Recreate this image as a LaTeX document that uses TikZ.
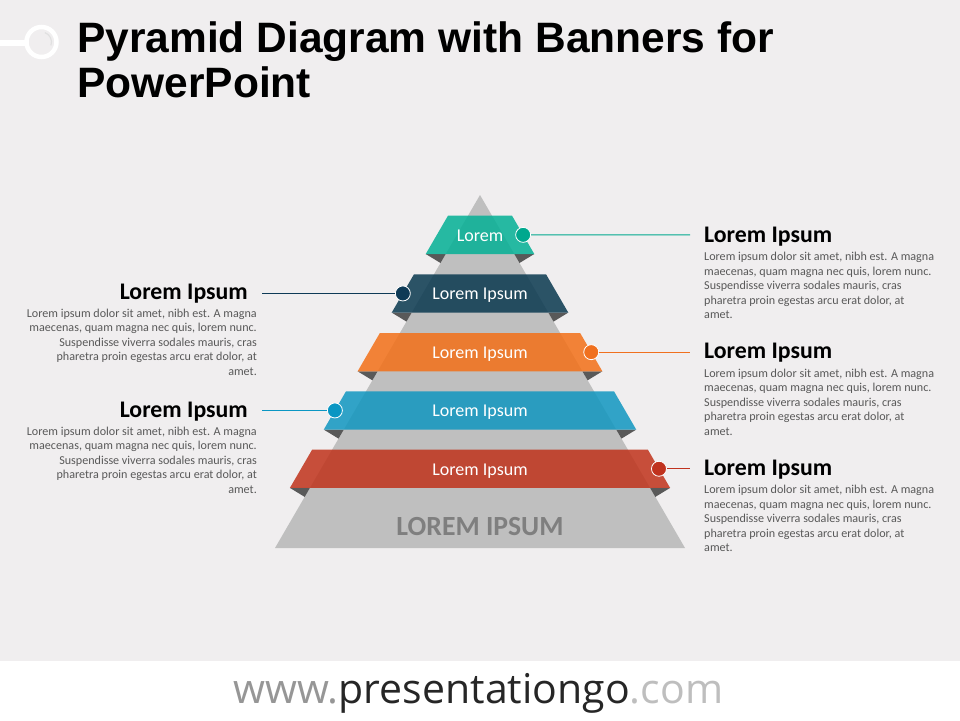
\documentclass[tikz,border=0pt]{standalone}
\usepackage{fontspec}
\setmainfont{Carlito}
\newfontfamily\titlefont{Liberation Sans}
\newfontfamily\footfont{Open Sans}
\definecolor{bg}{RGB}{240,238,239}
\definecolor{pyr}{RGB}{191,191,191}
\definecolor{flapgray}{RGB}{89,89,89}
\definecolor{txtgray}{RGB}{89,89,89}
\definecolor{bigtxt}{RGB}{127,127,127}
\definecolor{tealB}{RGB}{3,176,149}
\definecolor{navyB}{RGB}{9,56,79}
\definecolor{orangeB}{RGB}{243,112,23}
\definecolor{blueB}{RGB}{16,151,192}
\definecolor{redB}{RGB}{192,51,27}
\definecolor{tealD}{RGB}{0,168,142}
\definecolor{navyD}{RGB}{14,58,86}
\definecolor{orangeD}{RGB}{240,112,30}
\definecolor{blueD}{RGB}{10,150,195}
\definecolor{redD}{RGB}{192,50,30}
\definecolor{wgray}{RGB}{150,150,150}
\definecolor{pgray}{RGB}{38,38,38}
\definecolor{cgray}{RGB}{190,190,190}
\newcommand\pyrbanner[4]{%
  \pgfmathsetmacro\yb{#2+38.3}%
  \pgfmathsetmacro\ym{#2+19.15}%
  \pgfmathsetmacro\yt{#2+25.6}%
  \pgfmathsetmacro\hT{(#2-195)*0.5807+20}%
  \pgfmathsetmacro\hB{(\yb-195)*0.5807+20}%
  \pgfmathsetmacro\hP{\hB-20}%
  \pgfmathsetmacro\hQ{\hP+9*0.5807}%
  \pgfmathsetmacro\hM{(\hT+\hB)/2}%
  \pgfmathsetmacro\yc{\yb+9}%
  \fill[flapgray] (480-\hB,\yb) -- (480-\hP,\yb) -- (480-\hQ,\yc) -- cycle;
  \fill[flapgray] (480+\hB,\yb) -- (480+\hP,\yb) -- (480+\hQ,\yc) -- cycle;
  \fill[#3, fill opacity=0.85] (480-\hT,#2) -- (480+\hT,#2) -- (480+\hB,\yb) -- (480-\hB,\yb) -- cycle;
  \node[bantext] (b#1) at (480,\yt) {#4};
  \coordinate (bl#1) at (480-\hM,\ym);
  \coordinate (br#1) at (480+\hM,\ym);
}
\begin{document}
\begin{tikzpicture}[x=1pt,y=-1pt,
  hd/.style={inner sep=0, font=\bfseries\fontsize{23.8}{28}\selectfont, text=black},
  bodyR/.style={inner sep=0, align=left, anchor=north west, font=\fontsize{12.1}{14.5}\selectfont, text=txtgray},
  bodyL/.style={inner sep=0, align=right, anchor=north east, font=\fontsize{12.1}{14.5}\selectfont, text=txtgray},
  bantext/.style={inner sep=0, anchor=base, text=white, font=\fontsize{18}{21}\selectfont},
  dotn/.style={circle, inner sep=0, minimum size=15pt, draw=white, line width=0.8pt},
  conn/.style={line width=1pt},
  ttl/.style={inner sep=0, anchor=base west, font=\titlefont\bfseries\fontsize{42.5}{50}\selectfont, text=black}
]
\useasboundingbox (0,0) rectangle (960,720);
\fill[bg] (0,0) rectangle (960,661);
\fill[white] (0,661) rectangle (960,720);
% logo
\draw[white, line width=6pt] (0,43) -- (27,43);
\draw[white, line width=4.5pt] (41.5,42) circle[radius=15];
\draw[black!12, line width=1.2pt] (41.5,42) ++(20:10) arc[start angle=20, end angle=-70, radius=10];
% title
\node[ttl] (t1) at (77,52.5) {Pyramid Diagram with Banners for};
\node[ttl] (t2) at (77,97.7) {PowerPoint};
% pyramid
\fill[pyr] (480,195) -- (685,548) -- (275,548) -- cycle;
\node[inner sep=0, anchor=base, text=bigtxt, font=\bfseries\fontsize{27.7}{30}\selectfont] (base) at (480,535.5) {LOREM IPSUM};
% banners
\pyrbanner{1}{215.7}{tealB}{Lorem}
\pyrbanner{2}{274.3}{navyB}{Lorem Ipsum}
\pyrbanner{3}{333.0}{orangeB}{Lorem Ipsum}
\pyrbanner{4}{391.3}{blueB}{Lorem Ipsum}
\pyrbanner{5}{449.6}{redB}{Lorem Ipsum}
% dots
\node[dotn, fill=tealD] (d1) at (br1) {};
\node[dotn, fill=navyD] (d2) at (bl2) {};
\node[dotn, fill=orangeD] (d3) at (br3) {};
\node[dotn, fill=blueD] (d4) at (bl4) {};
\node[dotn, fill=redD] (d5) at (br5) {};
% connector ends
\coordinate (e1) at (690,234.85);
\coordinate (e2) at (262,293.45);
\coordinate (e3) at (690,352.15);
\coordinate (e4) at (262,410.45);
\coordinate (e5) at (690,468.75);
\draw[conn, tealD] (d1) -- (e1);
\draw[conn, navyD] (d2) -- (e2);
\draw[conn, orangeD] (d3) -- (e3);
\draw[conn, blueD] (d4) -- (e4);
\draw[conn, redD] (d5) -- (e5);
% text blocks right
\node[hd, anchor=base west] (h1) at (704,242) {Lorem Ipsum};
\node[bodyR] (p1) at (704,252) {Lorem ipsum dolor sit amet, nibh est. A magna\\maecenas, quam magna nec quis, lorem nunc.\\Suspendisse viverra sodales mauris, cras\\pharetra proin egestas arcu erat dolor, at\\amet.};
\node[hd, anchor=base west] (h3) at (704,358.5) {Lorem Ipsum};
\node[bodyR] (p3) at (704,368.5) {Lorem ipsum dolor sit amet, nibh est. A magna\\maecenas, quam magna nec quis, lorem nunc.\\Suspendisse viverra sodales mauris, cras\\pharetra proin egestas arcu erat dolor, at\\amet.};
\node[hd, anchor=base west] (h5) at (704,475) {Lorem Ipsum};
\node[bodyR] (p5) at (704,485) {Lorem ipsum dolor sit amet, nibh est. A magna\\maecenas, quam magna nec quis, lorem nunc.\\Suspendisse viverra sodales mauris, cras\\pharetra proin egestas arcu erat dolor, at\\amet.};
% text blocks left
\node[hd, anchor=base east] (h2) at (248,299) {Lorem Ipsum};
\node[bodyL] (p2) at (257,308.5) {Lorem ipsum dolor sit amet, nibh est. A magna\\maecenas, quam magna nec quis, lorem nunc.\\Suspendisse viverra sodales mauris, cras\\pharetra proin egestas arcu erat dolor, at\\amet.};
\node[hd, anchor=base east] (h4) at (248,417) {Lorem Ipsum};
\node[bodyL] (p4) at (257,426.5) {Lorem ipsum dolor sit amet, nibh est. A magna\\maecenas, quam magna nec quis, lorem nunc.\\Suspendisse viverra sodales mauris, cras\\pharetra proin egestas arcu erat dolor, at\\amet.};
% footer
\node[inner sep=0, anchor=base, font=\footfont\fontsize{41}{44}\selectfont] (ft) at (478.5,703) {\textcolor{wgray}{www.}\textcolor{pgray}{presentationgo}\textcolor{cgray}{.com}};
\end{tikzpicture}
\end{document}
